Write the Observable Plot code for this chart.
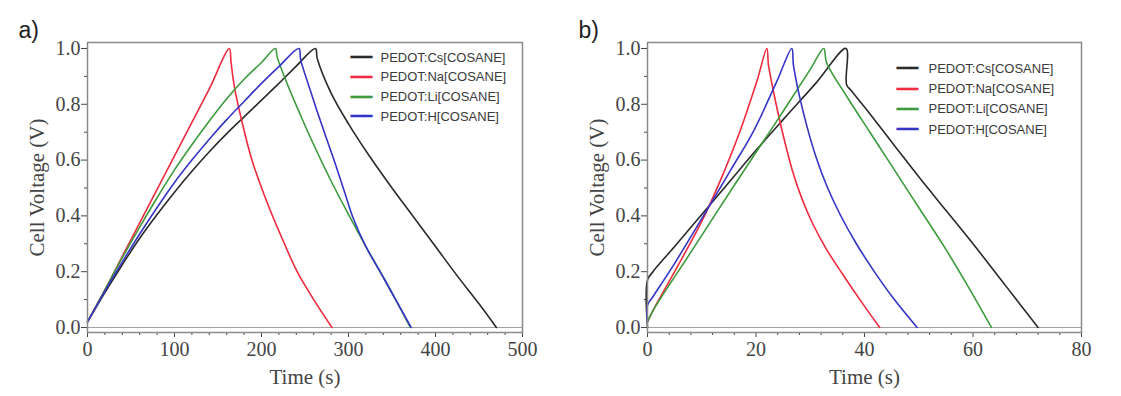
<!DOCTYPE html>
<html><head><meta charset="utf-8">
<script src="https://cdn.jsdelivr.net/npm/d3@7"></script>
<script src="https://cdn.jsdelivr.net/npm/@observablehq/plot@0.6"></script>
<style>
body{margin:0;background:#fff;}
#wrap{position:relative;width:1121px;height:396px;overflow:hidden;background:#fff;}
#pa,#pb{position:absolute;top:0;}
#pa{left:0;} #pb{left:560px;}
</style></head><body>
<div id="wrap"><div id="pa"></div><div id="pb"></div></div>
<script>
// ---- series ----
const seriesNames = ["PEDOT:Cs[COSANE]", "PEDOT:Na[COSANE]", "PEDOT:Li[COSANE]", "PEDOT:H[COSANE]"];
const seriesColors = ["#2a2a2a", "#ee2b3f", "#3c9b3c", "#3434c6"];

// ---- panel a: [time (s), cell voltage (V)] ----
const aCs = [[0,0.02],[20,0.125],[40,0.225],[60,0.32],[80,0.405],[100,0.485],[120,0.56],[140,0.63],[160,0.695],[180,0.755],[200,0.815],[220,0.875],[240,0.937],[262,1.0],
  [264,0.965],[280,0.84],[300,0.73],[325,0.61],[350,0.5],[375,0.395],[400,0.29],[425,0.185],[450,0.085],[470,0.0]];
const aNa = [[0,0.02],[20,0.135],[40,0.255],[60,0.375],[80,0.495],[100,0.615],[120,0.735],[140,0.855],[163,1.0],
  [165,0.95],[169,0.86],[180,0.706],[189,0.6],[197,0.527],[210,0.42],[225,0.31],[241,0.2],[260,0.1],[281,0.0]];
const aLi = [[0,0.02],[20,0.135],[40,0.25],[60,0.36],[80,0.465],[100,0.565],[120,0.655],[140,0.74],[160,0.82],[180,0.89],[200,0.95],[216,1.0],
  [218,0.97],[230,0.87],[245,0.76],[260,0.655],[280,0.525],[300,0.405],[320,0.29],[340,0.18],[355,0.095],[371,0.0]];
const aH = [[0,0.02],[20,0.13],[40,0.235],[60,0.335],[80,0.43],[100,0.52],[120,0.6],[140,0.675],[160,0.745],[180,0.81],[200,0.875],[220,0.935],[243,1.0],
  [245,0.96],[255,0.86],[265,0.765],[275,0.675],[285,0.585],[295,0.49],[305,0.395],[320,0.29],[340,0.18],[355,0.095],[372,0.0]];

// ---- panel b ----
const bCs = [[0,0.0],[0,0.17],[1,0.2],[5,0.29],[10,0.405],[15,0.52],[20,0.635],[25,0.745],[31,0.875],[36.6,1.0],
  [36.7,0.87],[37.5,0.85],[40,0.79],[45,0.665],[50,0.54],[55,0.42],[60,0.3],[66,0.15],[72,0.0]];
const bNa = [[0,0.02],[1,0.06],[5,0.2],[10,0.38],[13.5,0.53],[17.1,0.706],[20.2,0.885],[22,1.0],
  [22.3,0.94],[23.5,0.82],[24.8,0.706],[26.7,0.563],[28.5,0.46],[30.5,0.37],[33,0.28],[36,0.19],[39.5,0.09],[42.8,0.0]];
const bLi = [[0,0.02],[1,0.06],[8,0.27],[16,0.51],[24,0.745],[30,0.925],[32.5,1.0],
  [33,0.95],[37,0.82],[41,0.7],[45,0.58],[50,0.43],[55,0.28],[59,0.15],[63.4,0.0]];
const bH = [[0,0.02],[0,0.08],[1,0.11],[5,0.23],[10,0.39],[15.3,0.563],[19.6,0.706],[23.9,0.885],[26.6,1.0],
  [26.9,0.94],[28,0.83],[29.4,0.72],[31,0.615],[33,0.51],[35.5,0.405],[38.5,0.3],[42,0.195],[45.5,0.1],[49.7,0.0]];

// ---- axes ----
const aXTicks = [0,100,200,300,400,500];
const aXMinor = [20,40,60,80,120,140,160,180,220,240,260,280,320,340,360,380,420,440,460,480];
const bXTicks = [0,20,40,60,80];
const bXMinor = [4,8,12,16,24,28,32,36,44,48,52,56,64,68,72,76];
const yTicks = [0,0.2,0.4,0.6,0.8,1.0];
const yMinor = [0.1,0.3,0.5,0.7,0.9];
const yDomain = [-0.018, 1.0215];
const xTitle = "Time (s)";
const yTitle = "Cell Voltage (V)";
const swatch = "\u2501\u2501\u2501";

const serif = "'Liberation Serif','Times New Roman',serif";
const sans = "'Liberation Sans',Arial,sans-serif";
const mono = "'DejaVu Sans Mono',monospace";

function makePanel({series, xDomain, xMajor, xMinor, tag, width, marginRight, legDx, legTextDx, legDy, legGap}) {
  const rows = [];
  series.forEach((pts, i) => pts.forEach(([t, v]) => rows.push({series: seriesNames[i], t, v})));
  const legend = [];
  seriesNames.forEach((name, i) => {
    legend.push(Plot.text([swatch], {frameAnchor: "top-left", dx: legDx, dy: legDy + i * legGap,
      fill: seriesColors[i], stroke: seriesColors[i], strokeWidth: 0.4, fontSize: 12, fontFamily: mono,
      textAnchor: "middle", lineAnchor: "middle"}));
    legend.push(Plot.text([name], {frameAnchor: "top-left", dx: legTextDx, dy: legDy + i * legGap,
      fill: "#3a3a3a", fontSize: 13, fontFamily: sans, textAnchor: "start", lineAnchor: "middle"}));
  });
  return Plot.plot({
    width, height: 396,
    marginLeft: 87, marginRight, marginTop: 42, marginBottom: 64,
    x: {domain: xDomain},
    y: {domain: yDomain},
    color: {domain: seriesNames, range: seriesColors},
    style: {fontFamily: serif, color: "#444", background: "transparent"},
    marks: [
      Plot.ruleY([0], {stroke: "#a0a0a0", strokeWidth: 1}),
      Plot.axisX(xMinor, {tickSize: 3, tickFormat: () => "", label: null}),
      Plot.axisX(xMajor, {tickSize: 5, tickPadding: 4, fontSize: 20, label: null}),
      Plot.axisY(yMinor, {tickSize: 3, tickFormat: () => "", label: null}),
      Plot.axisY(yTicks, {tickSize: 6, tickPadding: 1, tickFormat: d3.format(".1f"), fontSize: 20, label: null}),
      Plot.line(rows, {x: "t", y: "v", z: "series", stroke: "series", strokeWidth: 1.6, curve: "catmull-rom"}),
      Plot.frame({stroke: "#8a8a8a", strokeWidth: 1.5}),
      Plot.text([yTitle], {frameAnchor: "left", dx: -50, rotate: -90, textAnchor: "middle", lineAnchor: "middle", fontSize: 21, fill: "#444"}),
      Plot.text([xTitle], {frameAnchor: "bottom", dy: 45, textAnchor: "middle", lineAnchor: "middle", fontSize: 21, fill: "#444"}),
      Plot.text([tag], {frameAnchor: "top-left", dx: -69, dy: -5, lineAnchor: "bottom", textAnchor: "start", fontSize: 23, fontFamily: sans, fill: "#222"}),
      ...legend
    ]
  });
}

document.getElementById("pa").append(makePanel({
  series: [aCs, aNa, aLi, aH], xDomain: [0, 500], xMajor: aXTicks, xMinor: aXMinor, tag: "a)",
  width: 560, marginRight: 38, legDx: 274, legTextDx: 293, legDy: 15, legGap: 19.7
}));
document.getElementById("pb").append(makePanel({
  series: [bCs, bNa, bLi, bH], xDomain: [0, 80], xMajor: bXTicks, xMinor: bXMinor, tag: "b)",
  width: 561, marginRight: 40, legDx: 260, legTextDx: 281, legDy: 26, legGap: 20.3
}));
</script>
</body></html>
